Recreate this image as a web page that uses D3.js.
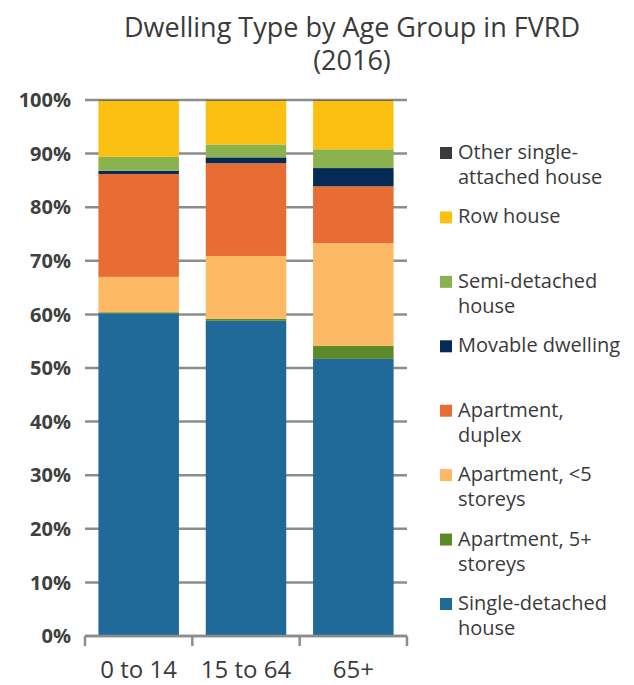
<!DOCTYPE html>
<html>
<head>
<meta charset="utf-8">
<script src="https://cdn.jsdelivr.net/npm/d3@7"></script>
<style>
  body { margin: 0; background: #fff; }
  svg { display: block; font-family: "Open Sans", "Noto Sans", sans-serif; }
</style>
</head>
<body>
<div id="chart"></div>
<script>
// Dwelling type by age group, FVRD 2016 (percent of each age group)

const ageGroups = ["0 to 14", "15 to 64", "65+"];

const dwellingTypes = [
    "Single-detached house",
    "Apartment, 5+ storeys",
    "Apartment, <5 storeys",
    "Apartment, duplex",
    "Movable dwelling",
    "Semi-detached house",
    "Row house",
    "Other single-attached house"
];

// values per age group
const singleDetached      = [60.2, 58.8, 51.7];
const apartment5Plus      = [0.2, 0.4, 2.4];
const apartmentUnder5     = [6.6, 11.7, 19.2];
const apartmentDuplex     = [19.2, 17.3, 10.6];
const movableDwelling     = [0.6, 1.1, 3.4];
const semiDetached        = [2.6, 2.4, 3.5];
const rowHouse            = [10.5, 8.2, 9.1];
const otherSingleAttached = [0.1, 0.1, 0.1];

const yTicks = [0, 10, 20, 30, 40, 50, 60, 70, 80, 90, 100];

// legend text, wrapped the way the original legend wraps it
const legendLines = {
    "Other single-attached house": ["Other single-", "attached house"],
    "Row house": ["Row house"],
    "Semi-detached house": ["Semi-detached", "house"],
    "Movable dwelling": ["Movable dwelling"],
    "Apartment, duplex": ["Apartment,", "duplex"],
    "Apartment, <5 storeys": ["Apartment, <5", "storeys"],
    "Apartment, 5+ storeys": ["Apartment, 5+", "storeys"],
    "Single-detached house": ["Single-detached", "house"]
};

const colors = {
    "Single-detached house": "#1f6a98",
    "Apartment, 5+ storeys": "#5d8a29",
    "Apartment, <5 storeys": "#fdb963",
    "Apartment, duplex": "#e86d35",
    "Movable dwelling": "#032b55",
    "Semi-detached house": "#8ab24f",
    "Row house": "#fcc013",
    "Other single-attached house": "#3a3a3a"
};

function drawChart() {
    const width = 634, height = 685;
    const plot = {left: 85, right: 407, top: 100, bottom: 636};

    const svg = d3.select("#chart")
        .append("svg")
        .attr("width", width)
        .attr("height", height);

    // build rows for the stack
    const seriesValues = [singleDetached, apartment5Plus, apartmentUnder5, apartmentDuplex,
                          movableDwelling, semiDetached, rowHouse, otherSingleAttached];
    const rows = ageGroups.map((g, i) => {
        const row = {group: g};
        dwellingTypes.forEach((t, j) => { row[t] = seriesValues[j][i]; });
        return row;
    });
    const stacked = d3.stack().keys(dwellingTypes)(rows);

    const x = d3.scaleBand()
        .domain(ageGroups)
        .range([plot.left, plot.right])
        .paddingInner(0.25)
        .paddingOuter(0.125);

    const y = d3.scaleLinear()
        .domain([0, 100])
        .range([plot.bottom, plot.top]);

    // Title (two lines)
    svg.append("text")
        .attr("x", 352)
        .attr("y", 37)
        .attr("text-anchor", "middle")
        .style("font-size", "27px")
        .style("fill", "#3a3a3a")
        .selectAll("tspan")
        .data(["Dwelling Type by Age Group in FVRD", "(2016)"])
        .enter()
        .append("tspan")
        .attr("x", 352)
        .attr("dy", (d, i) => i === 0 ? 0 : 33)
        .text(d => d);

    // gridlines
    svg.append("g")
        .selectAll("line")
        .data(yTicks)
        .enter()
        .append("line")
        .attr("x1", plot.left)
        .attr("x2", plot.right)
        .attr("y1", d => y(d))
        .attr("y2", d => y(d))
        .attr("stroke", "#8c8c8c")
        .attr("stroke-width", 2.5);

    // Y tick labels
    svg.append("g")
        .selectAll("text")
        .data(yTicks)
        .enter()
        .append("text")
        .attr("x", 71)
        .attr("y", d => y(d))
        .attr("dy", "0.36em")
        .attr("text-anchor", "end")
        .style("font-size", "20px")
        .style("font-weight", "bold")
        .style("fill", "#404040")
        .text(d => d + "%");

    // stacked bars
    svg.append("g")
        .selectAll("g")
        .data(stacked)
        .enter()
        .append("g")
        .attr("fill", d => colors[d.key])
        .selectAll("rect")
        .data(d => d)
        .enter()
        .append("rect")
        .attr("x", d => x(d.data.group))
        .attr("y", d => y(d[1]))
        .attr("width", x.bandwidth())
        .attr("height", d => y(d[0]) - y(d[1]));

    // x axis line with category boundary ticks
    const step = x.step();
    const boundaries = d3.range(ageGroups.length + 1).map(i => plot.left + i * step);
    svg.append("line")
        .attr("x1", plot.left)
        .attr("x2", plot.right)
        .attr("y1", y(0))
        .attr("y2", y(0))
        .attr("stroke", "#8c8c8c")
        .attr("stroke-width", 2.5);
    svg.append("g")
        .selectAll("line")
        .data(boundaries)
        .enter()
        .append("line")
        .attr("x1", d => d)
        .attr("x2", d => d)
        .attr("y1", y(0))
        .attr("y2", y(0) + 10)
        .attr("stroke", "#8c8c8c")
        .attr("stroke-width", 2.5);

    // X labels
    svg.append("g")
        .selectAll("text")
        .data(ageGroups)
        .enter()
        .append("text")
        .attr("x", d => x(d) + x.bandwidth() / 2)
        .attr("y", 678)
        .attr("text-anchor", "middle")
        .style("font-size", "24px")
        .style("fill", "#3a3a3a")
        .text(d => d);

    // Legend (top entry = last series)
    const legendOrder = dwellingTypes.slice().reverse();
    const ly = d3.scalePoint()
        .domain(legendOrder)
        .range([153, 604]);

    const legend = svg.append("g")
        .selectAll("g")
        .data(legendOrder)
        .enter()
        .append("g")
        .attr("transform", d => `translate(440,${ly(d)})`);

    legend.append("rect")
        .attr("x", 0)
        .attr("y", -6)
        .attr("width", 12)
        .attr("height", 12)
        .attr("fill", d => colors[d]);

    legend.append("text")
        .attr("x", 18)
        .attr("y", 6)
        .style("font-size", "20px")
        .style("fill", "#3a3a3a")
        .selectAll("tspan")
        .data(d => legendLines[d])
        .enter()
        .append("tspan")
        .attr("x", 18)
        .attr("dy", (d, i) => i === 0 ? 0 : 25)
        .text(d => d);
}

document.addEventListener('DOMContentLoaded', drawChart);
</script>
</body>
</html>
